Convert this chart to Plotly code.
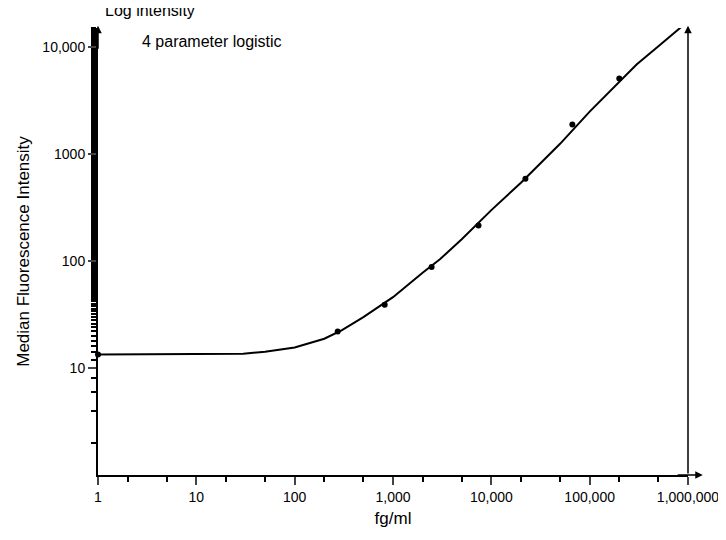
import plotly.graph_objects as go

conc = [1, 274, 823, 2469, 7407, 22222, 66667, 200000]
mfi = [13.4, 22, 39, 88, 215, 590, 1900, 5100]

curve_x = [1, 17, 30, 50, 100, 200, 300, 500, 1000, 2000, 3000, 5000, 10000, 20000, 30000, 50000, 100000, 200000, 300000, 500000, 1000000]
curve_y = [13.4, 13.4, 13.6, 14.2, 15.6, 18.8, 22.5, 30, 46, 78, 104, 160, 300, 540, 790, 1250, 2500, 4700, 6900, 10200, 17500]

x_ticks = [1, 10, 100, 1000, 10000, 100000, 1000000]
x_labels = ["1", "10", "100", "1,000", "10,000", "100,000", "1,000,000"]
y_ticks = [10, 100, 1000, 10000]
y_labels = ["10", "100", "1000", "10,000"]

fig = go.Figure()
fig.add_trace(go.Scatter(x=curve_x, y=curve_y, mode="lines", line=dict(color="black", width=2), showlegend=False))
fig.add_trace(go.Scatter(x=conc, y=mfi, mode="markers", marker=dict(color="black", size=6), showlegend=False, cliponaxis=False))

font = dict(family="Liberation Sans, Arial", size=14, color="black")
fig.update_layout(
    width=726, height=540, margin=dict(l=90, r=46, t=20, b=73),
    plot_bgcolor="white", paper_bgcolor="white", font=font,
    xaxis=dict(type="log", range=[0, 6], tickvals=x_ticks, ticktext=x_labels, ticks="outside", ticklen=8,
               tickwidth=2, showline=True, linecolor="black", linewidth=2, showgrid=False, zeroline=False,
               title=dict(text="fg/ml", standoff=8), tickfont=font,
               minor=dict(ticks="outside", ticklen=5, tickwidth=2, tickcolor="black", showgrid=False)),
    yaxis=dict(type="log", range=[0, 4.18], tickvals=y_ticks, ticktext=y_labels, ticks="outside", ticklen=8,
               tickwidth=2, showline=True, linecolor="black", linewidth=2, showgrid=False, zeroline=False,
               title=dict(text="Median Fluorescence Intensity", standoff=8), tickfont=font,
               minor=dict(ticks="outside", ticklen=5, tickwidth=2, tickcolor="black", showgrid=False)),
)
arrow = dict(xref="x domain", yref="y domain", axref="x domain", ayref="y domain", showarrow=True,
             arrowhead=2, arrowwidth=1.5, arrowcolor="black", text="")
fig.add_annotation(x=1, y=1.005, ax=1, ay=0, **arrow)
fig.add_annotation(x=0, y=1.005, ax=0, ay=0.95, **arrow)
fig.add_annotation(x=1.025, y=0, ax=0.98, ay=0, **arrow)
fig.add_annotation(x=0.008, y=1.04, xref="paper", yref="paper", text="Log intensity", showarrow=False,
                   xanchor="left", yanchor="middle", font=dict(family="Liberation Sans, Arial", size=16, color="black"))
fig.add_annotation(x=0.072, y=0.97, xref="paper", yref="paper", text="4 parameter logistic", showarrow=False,
                   xanchor="left", yanchor="middle", font=dict(family="Liberation Sans, Arial", size=16, color="black"))
fig.write_html("out.html")
